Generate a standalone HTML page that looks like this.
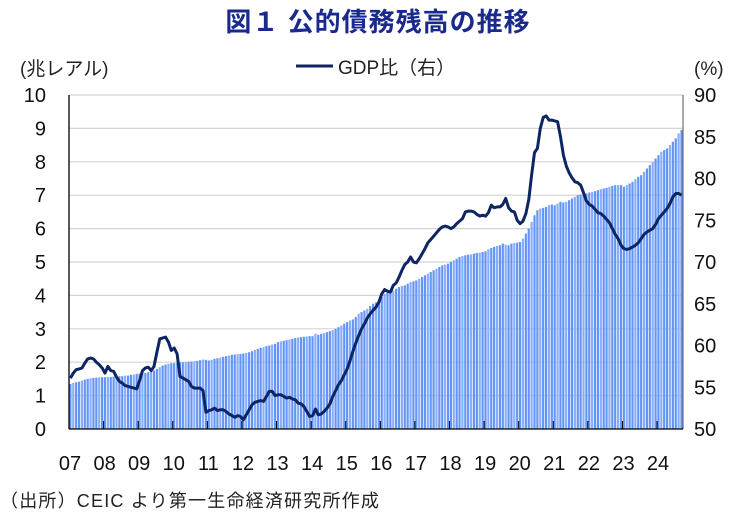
<!DOCTYPE html>
<html><head><meta charset="utf-8"><style>
body{margin:0;background:#fff;width:743px;height:521px;overflow:hidden;font-family:"Liberation Sans","Noto Sans CJK JP",sans-serif;}
svg text{font-family:"Liberation Sans","Noto Sans CJK JP",sans-serif;}
</style></head><body>
<svg id="chart" width="743" height="521">
<text x="378" y="31" text-anchor="middle" font-size="26" font-weight="bold" fill="#1a2a8c" letter-spacing="1">図１  公的債務残高の推移</text>
<text x="20" y="75" font-size="19" fill="#222">(兆レアル)</text>
<text x="694" y="75" font-size="19" fill="#222">(%)</text>
<g>
<line x1="296" y1="66" x2="333" y2="66" stroke="#0d2562" stroke-width="3"/>
<text x="338" y="74" font-size="19" fill="#222">GDP比（右）</text>
</g>
<g id="grid"></g><g id="bars"></g><g id="axes"></g>
<text x="0" y="507" font-size="18" fill="#222" letter-spacing="1.2">（出所）CEIC より第一生命経済研究所作成</text>
</svg>
<script>
const years=["07","08","09","10","11","12","13","14","15","16","17","18","19","20","21","22","23","24"];
const leftTicks=[0,1,2,3,4,5,6,7,8,9,10];
const rightTicks=[50,55,60,65,70,75,80,85,90];
const debt=[
1.35,1.38,1.40,1.42,1.45,1.48,1.50,1.52,1.53,1.54,1.55,1.55,
1.55,1.56,1.56,1.57,1.57,1.58,1.58,1.60,1.60,1.62,1.63,1.65,
1.66,1.67,1.68,1.70,1.72,1.75,1.80,1.85,1.90,1.93,1.95,1.97,
1.97,1.98,1.99,2.00,2.00,2.01,2.02,2.03,2.04,2.06,2.08,2.07,
2.05,2.07,2.10,2.12,2.14,2.16,2.18,2.20,2.22,2.23,2.24,2.25,
2.26,2.28,2.30,2.33,2.37,2.40,2.43,2.45,2.48,2.50,2.53,2.55,
2.60,2.62,2.64,2.66,2.68,2.70,2.72,2.74,2.75,2.76,2.77,2.78,
2.78,2.85,2.82,2.85,2.87,2.90,2.93,2.96,3.00,3.05,3.10,3.15,
3.20,3.25,3.28,3.35,3.45,3.50,3.55,3.60,3.68,3.75,3.80,3.80,
3.95,4.05,4.10,4.12,4.15,4.20,4.25,4.28,4.30,4.35,4.40,4.42,
4.45,4.50,4.55,4.60,4.65,4.70,4.75,4.80,4.85,4.90,4.92,4.95,
5.00,5.05,5.10,5.15,5.18,5.20,5.22,5.23,5.25,5.27,5.28,5.30,
5.32,5.38,5.42,5.45,5.48,5.50,5.55,5.52,5.50,5.55,5.57,5.58,
5.60,5.70,5.85,6.00,6.20,6.40,6.55,6.60,6.62,6.65,6.70,6.72,
6.70,6.75,6.80,6.78,6.80,6.85,6.90,6.95,7.00,7.02,7.05,7.05,
7.08,7.10,7.12,7.15,7.18,7.20,7.22,7.25,7.28,7.30,7.30,7.30,
7.25,7.30,7.35,7.40,7.48,7.55,7.60,7.70,7.80,7.90,8.00,8.10,
8.20,8.30,8.35,8.40,8.50,8.60,8.70,8.85,8.95];
const gdpRatio=[
56.1,56.7,57.1,57.2,57.3,57.9,58.4,58.5,58.4,58.0,57.7,57.3,
56.7,57.5,57.0,56.9,56.2,55.7,55.5,55.2,55.1,55.0,54.9,54.8,
55.8,57.0,57.3,57.4,57.0,57.5,59.2,60.8,60.9,61.0,60.4,59.4,
59.7,59.0,56.3,56.1,55.9,55.7,55.1,54.9,54.9,54.9,54.6,52.0,
52.2,52.3,52.5,52.2,52.3,52.3,52.1,51.8,51.6,51.4,51.6,51.5,
51.1,51.7,52.3,52.9,53.2,53.3,53.4,53.3,53.9,54.5,54.5,54.0,
54.1,54.1,53.9,53.7,53.8,53.6,53.5,53.1,53.0,52.7,52.1,51.5,
51.6,52.4,51.7,51.8,52.1,52.5,53.0,53.9,54.6,55.3,55.8,56.5,
57.2,58.2,59.3,60.3,61.2,62.0,62.6,63.3,63.8,64.2,64.6,65.2,
66.2,66.7,66.5,66.4,67.2,67.5,68.2,69.0,69.7,70.0,70.6,70.0,
69.9,70.4,71.0,71.6,72.3,72.7,73.1,73.5,73.9,74.2,74.3,74.2,
74.0,74.2,74.6,74.9,75.2,76.0,76.1,76.1,76.0,75.7,75.5,75.6,
75.5,75.9,76.8,76.5,76.6,76.6,76.9,77.6,76.5,76.1,76.0,75.0,
74.6,74.9,75.8,77.5,80.5,83.1,83.6,86.0,87.3,87.5,87.0,87.0,
86.9,86.8,85.0,82.8,81.5,80.7,80.1,79.6,79.5,79.2,78.3,77.3,
76.9,76.7,76.3,75.9,75.8,75.5,75.1,74.7,74.0,73.3,72.8,72.0,
71.6,71.5,71.6,71.8,72.0,72.3,72.8,73.3,73.6,73.8,74.0,74.5,
75.2,75.6,76.0,76.4,77.0,77.8,78.2,78.2,78.0];

const NS="http://www.w3.org/2000/svg";
const X0=69,X1=683,Y0=429,Y1=95;
const months=debt.length;
const bw=(X1-X0)/months;
const xM=i=>X0+i*bw;
const xYear=j=>X0+j*12*bw;
const yL=v=>Y0-(v-leftTicks[0])/(leftTicks[leftTicks.length-1]-leftTicks[0])*(Y0-Y1);
const yR=v=>Y0-(v-rightTicks[0])/(rightTicks[rightTicks.length-1]-rightTicks[0])*(Y0-Y1);
function mk(tag,attrs,parent){const e=document.createElementNS(NS,tag);for(const k in attrs)e.setAttribute(k,attrs[k]);parent.appendChild(e);return e;}
const grid=document.getElementById('grid'),bars=document.getElementById('bars'),axes=document.getElementById('axes');
leftTicks.forEach(t=>{
  if(t>0){const g=mk('line',{x1:X0,x2:X1,y1:yL(t),y2:yL(t),stroke:'#d4d4d4','stroke-width':1.2},grid);
  
  }
  const tx=mk('text',{x:46,y:yL(t)+7,'text-anchor':'end','font-size':20,fill:'#111'},axes);
  tx.textContent=t;
  
  
});
rightTicks.forEach(t=>{
  const tx=mk('text',{x:694,y:yR(t)+7,'font-size':20,fill:'#111'},axes);
  tx.textContent=t;
  
  
});
debt.forEach((v,i)=>{
  const r=mk('rect',{x:xM(i)+0.3,y:yL(v),width:bw-0.7,height:Y0-yL(v),fill:i%3===1?'#88aefa':'#6394f6'},bars);
  
  
});
mk('line',{x1:X0,x2:X0,y1:Y1,y2:Y0,stroke:'#000','stroke-width':1.3},axes);
mk('line',{x1:X1,x2:X1,y1:Y1,y2:Y0,stroke:'#555','stroke-width':1},axes);
mk('line',{x1:X0,x2:X1,y1:Y0,y2:Y0,stroke:'#000','stroke-width':1.3},axes);
years.forEach((y,j)=>{
  if(j>0)mk('line',{x1:xYear(j),x2:xYear(j),y1:Y0,y2:Y0-8,stroke:'#000','stroke-width':1},axes);
  const tx=mk('text',{x:xYear(j)+1,y:470,'text-anchor':'middle','font-size':20,fill:'#111'},axes);
  tx.textContent=y;
  
  
});
const pts=gdpRatio.map((v,i)=>(xM(i)+bw/2).toFixed(1)+','+yR(v).toFixed(1)).join(' ');
const pl=mk('polyline',{points:pts,fill:'none',stroke:'#0d2562','stroke-width':3,'stroke-linejoin':'round'},axes);


</script>
</body></html>
